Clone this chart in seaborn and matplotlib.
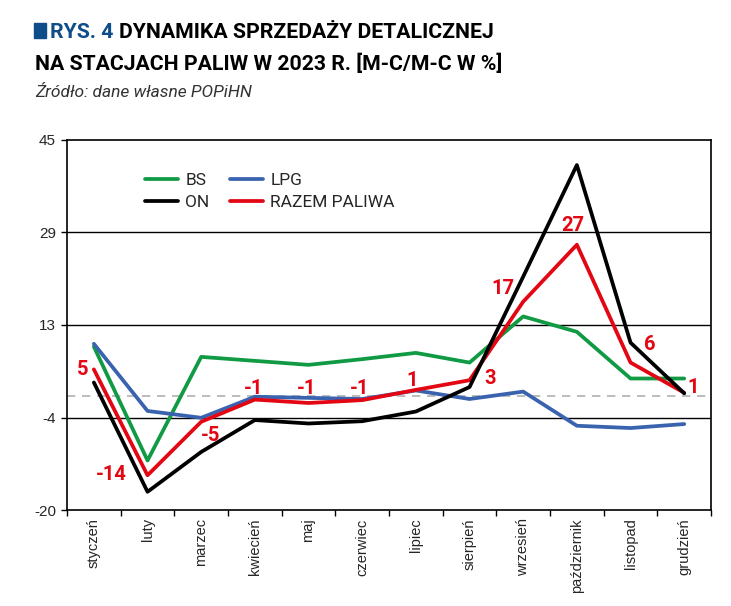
import numpy as np
import pandas as pd
import seaborn as sns
import matplotlib.pyplot as plt
from matplotlib.patches import Rectangle

# values (m/m change, %)
months = ['styczeń', 'luty', 'marzec', 'kwiecień', 'maj', 'czerwiec',
          'lipiec', 'sierpień', 'wrzesień', 'październik', 'listopad', 'grudzień']
bs = [8.7, -11.3, 6.9, 6.2, 5.5, 6.5, 7.6, 5.9, 14.0, 11.3, 3.1, 3.1]
lpg = [9.2, -2.6, -3.8, -0.1, -0.3, -0.5, 1.0, -0.5, 0.8, -5.2, -5.6, -4.9]
on = [2.4, -16.8, -9.8, -4.2, -4.8, -4.4, -2.7, 1.6, 21.0, 40.6, 9.4, 0.5]
razem = [4.7, -13.9, -4.5, -0.6, -1.2, -0.7, 1.1, 2.8, 16.6, 26.6, 5.9, 0.6]
razem_labels = ['5', '-14', '-5', '-1', '-1', '-1', '1', '3', '17', '27', '6', '1']

y_ticks = [-20, -3.75, 12.5, 28.75, 45]
y_tick_labels = ['-20', '-4', '13', '29', '45']

# label offsets in points (styling only)
label_offsets = [(-8, 1.5), (-26, 2), (6.5, -8.3), (-1, 9.3), (-1.4, 11.7), (-1.7, 9.7),
                 (-3, 8.4), (14.6, 2.5), (-14.5, 10.8), (-2.7, 15), (14, 14.3), (6.3, 5.5)]

colors = {'BS': '#109a43', 'LPG': '#3a63af', 'ON': '#000000', 'RAZEM PALIWA': '#e30613'}

x_pos = np.arange(len(months))
df = pd.DataFrame({
    'x': np.tile(x_pos, 4),
    'val': bs + lpg + on + razem,
    'seria': ['BS'] * 12 + ['LPG'] * 12 + ['ON'] * 12 + ['RAZEM PALIWA'] * 12,
})

sns.set_style('white')
plt.rcParams['font.family'] = ['Liberation Sans', 'DejaVu Sans']

fig = plt.figure(figsize=(7.31, 6.06), dpi=100)
ax = fig.add_axes([0.0917, 0.1584, 0.8810, 0.6106])

ax.axhline(0, color='#b0b0b0', lw=1.2, ls=(0, (5, 4)), zorder=1)
for yv in y_ticks[1:4]:
    ax.axhline(yv, color='black', lw=1.0, zorder=1)

sns.lineplot(data=df, x='x', y='val', hue='seria',
             hue_order=['BS', 'LPG', 'RAZEM PALIWA', 'ON'],
             palette=colors, lw=2.7, sort=False, ax=ax, zorder=3)

for i, txt in enumerate(razem_labels):
    ax.annotate(txt, (x_pos[i], razem[i]), xytext=label_offsets[i],
                textcoords='offset points', ha='center', va='center_baseline',
                color='#e30613', fontsize=14.5, fontweight='bold', family='Roboto')

ax.set_xlim(-0.5, len(months) - 0.5)
ax.set_ylim(-20, 45)
ax.set_yticks(y_ticks)
ax.set_yticklabels(y_tick_labels, fontsize=11)
ax.set_xticks(x_pos)
ax.set_xticklabels(months, rotation=90, fontsize=10.5)
ax.set_xticks(np.arange(-0.5, len(months)), minor=True)
ax.tick_params(axis='x', which='major', length=0, pad=6)
ax.tick_params(axis='x', which='minor', length=4, width=1, color='black', direction='out', bottom=True)
ax.tick_params(axis='y', length=4, width=1, color='black', direction='out', left=True, pad=4)
ax.set_xlabel('')
ax.set_ylabel('')
for s in ax.spines.values():
    s.set_color('black')
    s.set_linewidth(1.2)

h, l = ax.get_legend_handles_labels()
order = ['BS', 'ON', 'LPG', 'RAZEM PALIWA']
hd = dict(zip(l, h))
ax.legend([hd[k] for k in order], order, ncol=2, loc='upper left',
          bbox_to_anchor=(0.108, 0.935), frameon=False, borderpad=0,
          handlelength=1.9, handletextpad=0.4, columnspacing=1.2, labelspacing=0.4,
          prop={'family': 'Roboto', 'size': 12.5})

# title
blue = '#0f4c8a'
fig.patches.append(Rectangle((34 / 731, 1 - 38 / 606), 12 / 731, 15 / 606,
                             transform=fig.transFigure, color=blue))
t1 = fig.text(50 / 731, 1 - 38 / 606, 'RYS. 4', color=blue, fontsize=15.3,
              fontweight='bold', family='Roboto', va='baseline')
fig.canvas.draw()
bb = t1.get_window_extent()
fig.text((bb.x1 + 6) / 731, 1 - 38 / 606, 'DYNAMIKA SPRZEDAŻY DETALICZNEJ', color='black',
         fontsize=15.3, fontweight='bold', family='Roboto', va='baseline')
fig.text(35 / 731, 1 - 70 / 606, 'NA STACJACH PALIW W 2023 R. [M-C/M-C W %]', color='black',
         fontsize=15.3, fontweight='bold', family='Roboto', va='baseline')
fig.text(35 / 731, 1 - 97 / 606, 'Źródło: dane własne POPiHN', color='#333333',
         fontsize=12.5, fontstyle='italic', family='Roboto', va='baseline')

fig.savefig('out.png', dpi=100)
